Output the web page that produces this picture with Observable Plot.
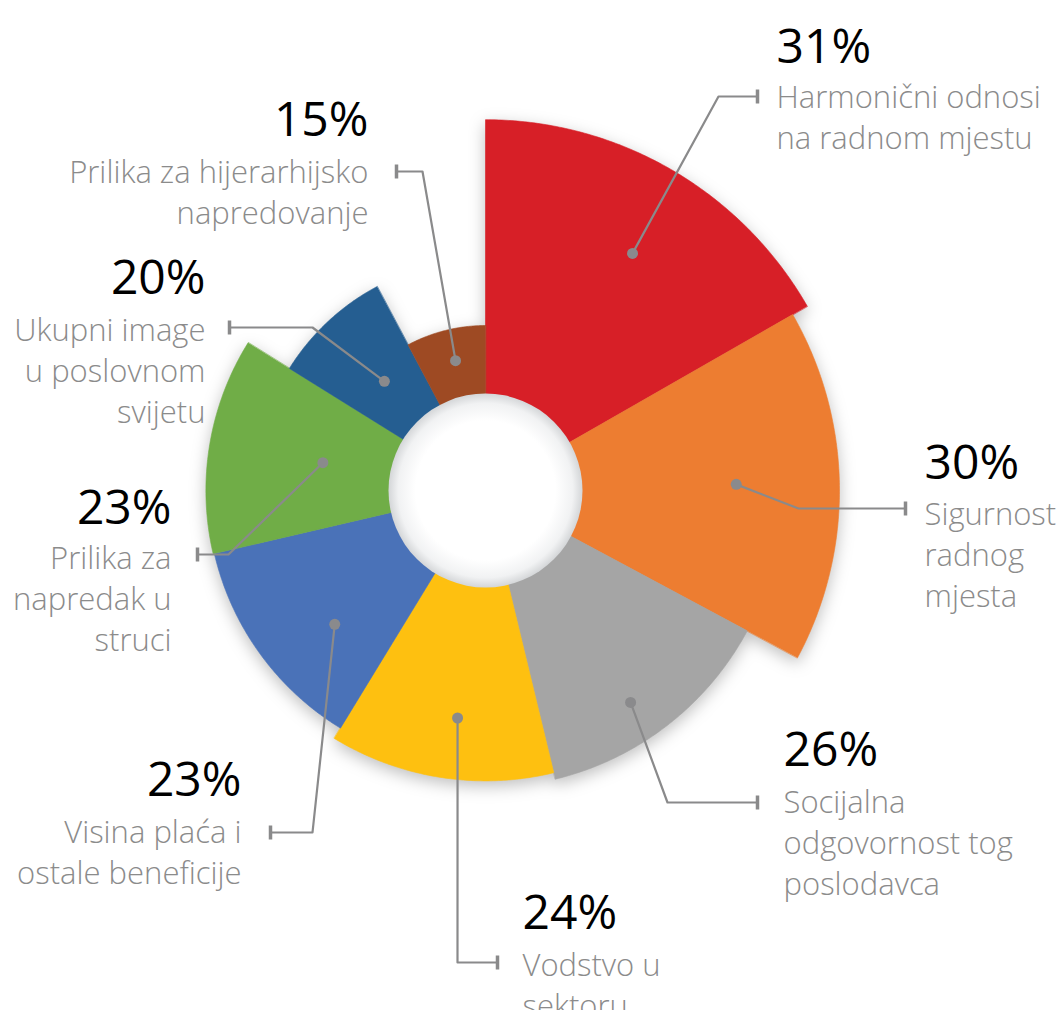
<!DOCTYPE html>
<html><head><meta charset="utf-8">
<script src="https://cdn.jsdelivr.net/npm/d3@7"></script>
<script src="https://cdn.jsdelivr.net/npm/@observablehq/plot@0.6"></script>
<style>
html,body{margin:0;padding:0;background:#fff;}
#chart svg > g:first-of-type { filter: drop-shadow(0px 5px 8px rgba(0,0,0,0.25)); }
</style>
</head><body><div id="chart"></div>
<script>
// ---- data ----
const categories = [
  "Harmonični odnosi\nna radnom mjestu",
  "Sigurnost\nradnog\nmjesta",
  "Socijalna\nodgovornost tog\nposlodavca",
  "Vodstvo u\nsektoru",
  "Visina plaća i\nostale beneficije",
  "Prilika za\nnapredak u\nstruci",
  "Ukupni image\nu poslovnom\nsvijetu",
  "Prilika za hijerarhijsko\nnapredovanje"
];
const percents = [31, 30, 26, 24, 23, 23, 20, 15];
// angular width of each slice (degrees) and its outer reach (in % units)
const spans = [60.2, 58.0, 48.2, 45.0, 45.5, 45.0, 30.1, 28.0];
const reach = [30.9, 29.5, 24.75, 24.2, 23.2, 23.3, 19.25, 13.75];
// where each leader dot sits (angle from north, reach)
const markerAngle = [31.8, 88.6, 145.6, 187, 228.4, 279.7, 317.2, 347];
const markerReach = [23.25, 20.9, 21.4, 19.1, 16.8, 13.75, 12.4, 11.1];
const colors = ["#d71f27", "#ed7d31", "#a5a5a5", "#fec010", "#4a72b8", "#70ad47", "#255e91", "#9e4a23"];

// ---- layout (pixels) ----
const W = 1057, H = 1010, cx = 485, cy = 490, k = 12;
const layout = [
  {elbow: [718, 96], end: [757, 96], anchor: "start", tx: 776, pctY: 62, lineY: 107},
  {elbow: [798, 508], end: [905, 508], anchor: "start", tx: 924, pctY: 478, lineY: 524},
  {elbow: [667, 802], end: [757, 802], anchor: "start", tx: 783, pctY: 765, lineY: 812},
  {elbow: [457, 962], end: [497, 962], anchor: "start", tx: 522, pctY: 928, lineY: 975},
  {elbow: [312, 832], end: [270, 832], anchor: "end", tx: 241, pctY: 795, lineY: 842},
  {elbow: [228, 554], end: [197, 554], anchor: "end", tx: 171, pctY: 523, lineY: 568},
  {elbow: [312, 327], end: [229, 327], anchor: "end", tx: 205, pctY: 293, lineY: 340},
  {elbow: [422, 171], end: [396, 171], anchor: "end", tx: 368, pctY: 135, lineY: 182}
];
const lineStep = 41;
const X = px => (px - cx) / k;
const Y = py => (cy - py) / k;
const rad = a => a * Math.PI / 180;

// sector outlines
const sectors = [];
let a0 = 0;
spans.forEach((s, i) => {
  const a1 = a0 + s;
  sectors.push({i, x: 0, y: 0});
  for (let a = a0; a < a1; a += 0.5) {
    sectors.push({i, x: reach[i] * Math.sin(rad(a)), y: reach[i] * Math.cos(rad(a))});
  }
  sectors.push({i, x: reach[i] * Math.sin(rad(a1)), y: reach[i] * Math.cos(rad(a1))});
  a0 = a1;
});

const dots = percents.map((p, i) => ({i,
  x: markerReach[i] * Math.sin(rad(markerAngle[i])),
  y: markerReach[i] * Math.cos(rad(markerAngle[i]))}));
const leaders = [];
dots.forEach((d, i) => {
  leaders.push({i, x: d.x, y: d.y});
  leaders.push({i, x: X(layout[i].elbow[0]), y: Y(layout[i].elbow[1])});
  leaders.push({i, x: X(layout[i].end[0]), y: Y(layout[i].end[1])});
});
const ticks = layout.map((l, i) => ({i, x: X(l.end[0]), y1: Y(l.end[1] - 7), y2: Y(l.end[1] + 7)}));

const pctRows = percents.map((p, i) => ({i, text: p + "%", x: X(layout[i].tx), y: Y(layout[i].pctY), anchor: layout[i].anchor}));
const lineRows = [];
categories.forEach((c, i) => c.split("\n").forEach((t, j) =>
  lineRows.push({i, text: t, x: X(layout[i].tx), y: Y(layout[i].lineY + j * lineStep), anchor: layout[i].anchor})));

const font = "'Open Sans', 'Noto Sans', sans-serif";
const textMarks = [];
for (const anchor of ["start", "end"]) {
  textMarks.push(Plot.text(pctRows.filter(d => d.anchor === anchor), {
    x: "x", y: "y", text: "text", textAnchor: anchor, lineAnchor: "bottom",
    fontSize: 48, fill: "#000", fontFamily: font, fontWeight: 400
  }));
  textMarks.push(Plot.text(lineRows.filter(d => d.anchor === anchor), {
    x: "x", y: "y", text: "text", textAnchor: anchor, lineAnchor: "bottom",
    fontSize: 31, fill: "#8b8b8b", fontFamily: font, fontWeight: 300
  }));
}

const chart = Plot.plot({
  width: W, height: H,
  margin: 0,
  x: {domain: [-cx / k, (W - cx) / k], axis: null},
  y: {domain: [-(H - cy) / k, cy / k], axis: null},
  color: {type: "identity"},
  marks: [
    Plot.line(sectors, {x: "x", y: "y", z: "i", fill: d => colors[d.i], stroke: d => colors[d.i], strokeWidth: 0.6, curve: "linear-closed"}),
    Plot.dot([{x: 0, y: 0}], {x: "x", y: "y", r: 97, fill: "url(#holeGrad)", stroke: "none"}),
    Plot.line(leaders, {x: "x", y: "y", z: "i", stroke: "#8a8a8b", strokeWidth: 2.2}),
    Plot.link(ticks, {x1: "x", x2: "x", y1: "y1", y2: "y2", stroke: "#8a8a8b", strokeWidth: 3.5}),
    Plot.dot(dots, {x: "x", y: "y", r: 5.5, fill: "#8a8a8c", stroke: "none"}),
    ...textMarks
  ]
});

const svgNS = "http://www.w3.org/2000/svg";
const defs = document.createElementNS(svgNS, "defs");
defs.innerHTML = `<radialGradient id="holeGrad" cx="50%" cy="50%" r="50%">
  <stop offset="0%" stop-color="#ffffff"/>
  <stop offset="72%" stop-color="#ffffff"/>
  <stop offset="90%" stop-color="#f1f2f3"/>
  <stop offset="100%" stop-color="#d4d6d8"/>
</radialGradient>`;
chart.insertBefore(defs, chart.firstChild);
document.getElementById("chart").appendChild(chart);
</script>
</body></html>
